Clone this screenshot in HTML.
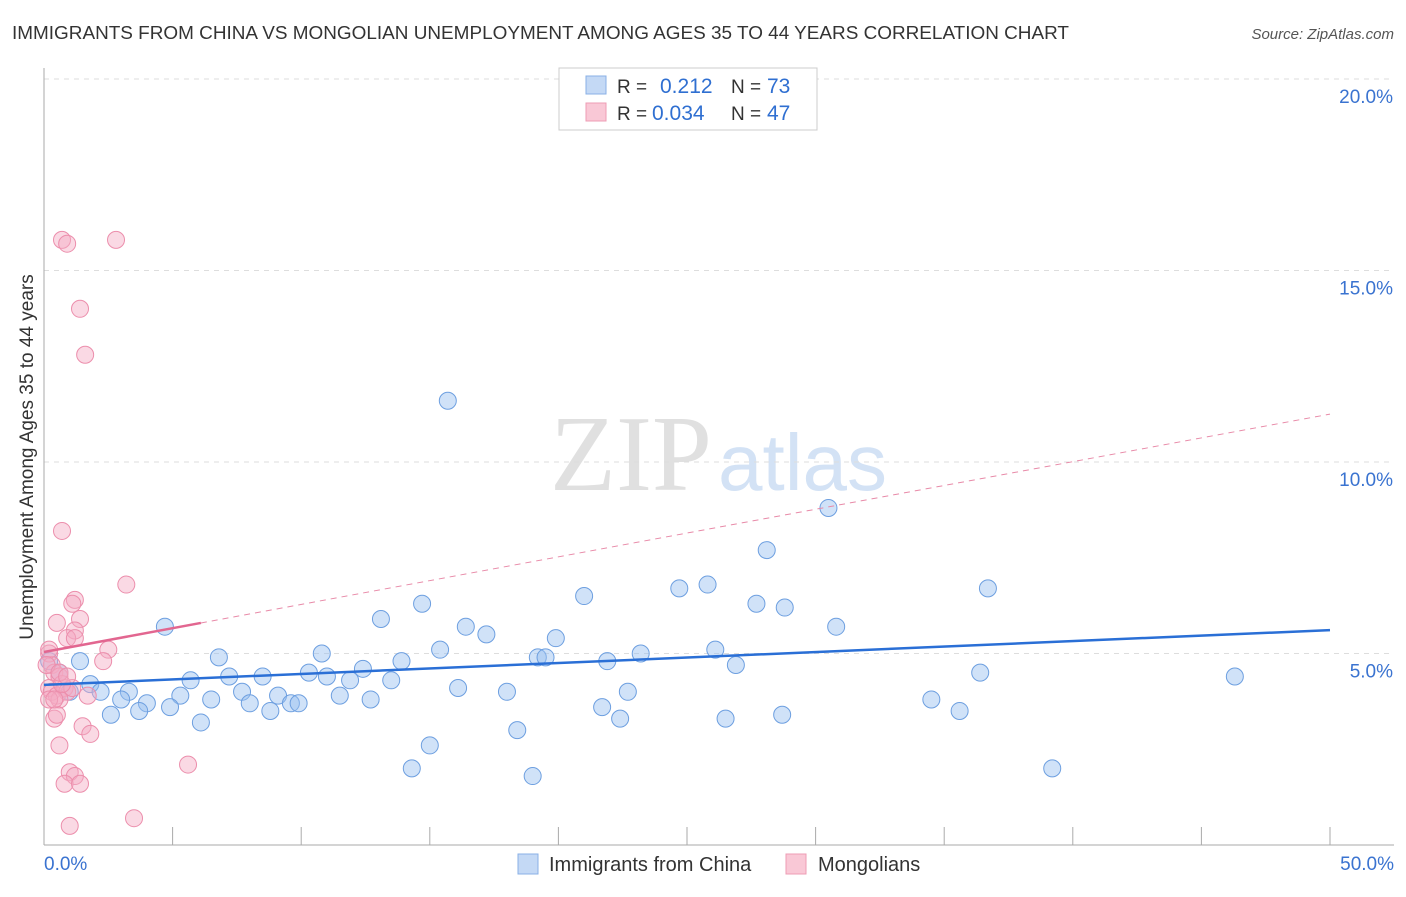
<!DOCTYPE html>
<html><head><meta charset="utf-8"><style>
body{margin:0;background:#fff;font-family:"Liberation Sans",sans-serif}
</style></head><body>
<svg id="c" width="1406" height="892" xmlns="http://www.w3.org/2000/svg">
<text x="12" y="39" font-size="18" fill="#333" textLength="1057" lengthAdjust="spacingAndGlyphs">IMMIGRANTS FROM CHINA VS MONGOLIAN UNEMPLOYMENT AMONG AGES 35 TO 44 YEARS CORRELATION CHART</text>
<text x="1394" y="39" font-size="15" fill="#555" font-style="italic" text-anchor="end">Source: ZipAtlas.com</text>
<text x="712" y="490" font-size="108" fill="#e0e0e0" font-family="Liberation Serif" text-anchor="end">ZIP</text>
<text x="718" y="490" font-size="80" fill="#d3e2f5">atlas</text>
<g id="grid"></g><g id="axes"></g><g id="pts"></g><g id="lines"></g>
<text transform="translate(33,457) rotate(-90)" font-size="19" fill="#333" text-anchor="middle">Unemployment Among Ages 35 to 44 years</text>
<g>
<rect x="559" y="68" width="258" height="62" fill="#fff" stroke="#ccc"/>
<rect x="586" y="76" width="20" height="18" fill="#c4d9f5" stroke="#8ab0e6"/>
<rect x="586" y="103" width="20" height="18" fill="#f9c8d6" stroke="#ee9cb4"/>
<text x="617" y="93" font-size="19" fill="#333">R =</text>
<text x="660" y="93" font-size="21" fill="#2f6fd1">0.212</text>
<text x="731" y="93" font-size="19" fill="#333">N =</text>
<text x="767" y="93" font-size="21" fill="#2f6fd1">73</text>
<text x="617" y="120" font-size="19" fill="#333">R =</text>
<text x="652" y="120" font-size="21" fill="#2f6fd1">0.034</text>
<text x="731" y="120" font-size="19" fill="#333">N =</text>
<text x="767" y="120" font-size="21" fill="#2f6fd1">47</text>
</g>
<g>
<rect x="518" y="854" width="20" height="20" fill="#c4d9f5" stroke="#8ab0e6"/>
<text x="549" y="871" font-size="20" fill="#333">Immigrants from China</text>
<rect x="786" y="854" width="20" height="20" fill="#f9c8d6" stroke="#ee9cb4"/>
<text x="818" y="871" font-size="20" fill="#333">Mongolians</text>
</g>
</svg>
<script>
const blueX=[15.7,30.5,28.1,25.8,24.7,36.7,21.0,14.7,27.7,28.8,13.1,30.8,16.4,4.7,17.2,19.9,10.8,15.4,6.8,23.2,26.1,19.2,19.5,21.9,13.9,1.4,26.9,10.3,12.4,36.4,46.3,5.7,7.2,8.5,11.0,11.9,13.5,16.1,18.0,22.7,1.8,2.2,3.3,1.0,7.7,9.1,5.3,6.5,11.5,4.0,3.0,8.0,9.6,9.9,12.7,34.5,4.9,3.7,2.6,8.8,21.7,35.6,6.1,22.4,26.5,28.7,18.4,15.0,14.3,19.0,39.2,0.6,0.2];
const blueY=[11.6,8.8,7.7,6.8,6.7,6.7,6.5,6.3,6.3,6.2,5.9,5.7,5.7,5.7,5.5,5.4,5.0,5.1,4.9,5.0,5.1,4.9,4.9,4.8,4.8,4.8,4.7,4.5,4.6,4.5,4.4,4.3,4.4,4.4,4.4,4.3,4.3,4.1,4.0,4.0,4.2,4.0,4.0,4.0,4.0,3.9,3.9,3.8,3.9,3.7,3.8,3.7,3.7,3.7,3.8,3.8,3.6,3.5,3.4,3.5,3.6,3.5,3.2,3.3,3.3,3.4,3.0,2.6,2.0,1.8,2.0,4.5,4.8];
const pinkX=[0.7,0.9,2.8,1.4,1.6,0.7,3.2,1.2,1.1,0.5,1.4,1.2,0.9,1.2,2.5,2.3,0.2,0.3,0.4,0.6,0.2,0.3,0.5,0.8,0.9,1.1,0.6,0.2,1.7,0.4,0.5,1.5,1.8,0.6,1.0,1.2,0.8,1.4,5.6,1.0,3.5,0.2,0.1,0.7,0.4,0.6,0.9];
const pinkY=[15.8,15.7,15.8,14.0,12.8,8.2,6.8,6.4,6.3,5.8,5.9,5.6,5.4,5.4,5.1,4.8,5.0,4.7,4.5,4.4,4.1,4.0,3.9,4.1,4.0,4.1,3.8,3.8,3.9,3.3,3.4,3.1,2.9,2.6,1.9,1.8,1.6,1.6,2.1,0.5,0.7,5.1,4.7,4.2,3.8,4.5,4.4];
const xTicks=[0,5,10,15,20,25,30,35,40,45,50];
const yTicks=[5,10,15,20];
const blueLine=[4.18,5.61];
const pinkLine=[5.04,11.25];
const NS="http://www.w3.org/2000/svg";
const X=v=>44+v*25.72, Y=v=>845-v*38.3;
function mk(t,a,p){const e=document.createElementNS(NS,t);for(const k in a)e.setAttribute(k,a[k]);document.getElementById(p).appendChild(e);return e;}
yTicks.forEach(t=>{
 const g=mk('line',{x1:44,x2:1394,y1:Y(t),y2:Y(t),stroke:'#ddd','stroke-dasharray':'5,5'},'grid');
 
 
 const l=mk('text',{x:1393,y:Y(t)+24,'font-size':19,fill:'#3a73d0','text-anchor':'end'},'axes');
 l.textContent=t.toFixed(1)+'%';
 
 
});
const ax=mk('line',{x1:44,x2:44,y1:68,y2:845,stroke:'#aaa'},'axes');


const bx=mk('line',{x1:44,x2:1394,y1:845,y2:845,stroke:'#aaa'},'axes');


xTicks.forEach(t=>{
 const k=mk('line',{x1:X(t),x2:X(t),y1:827,y2:845,stroke:'#aaa'},'axes');
 
 
});
[[0,'0.0%','start',44],[50,'50.0%','end',1394]].forEach(d=>{
 const l=mk('text',{x:d[3],y:870,'font-size':19,fill:'#3a73d0','text-anchor':d[2]},'axes');
 l.textContent=d[1];
 
 
});
blueX.forEach((x,i)=>{
 const c=mk('circle',{cx:X(x),cy:Y(blueY[i]),r:8.5,fill:'rgba(150,190,240,0.45)',stroke:'#6d9fe0','stroke-width':1},'pts');
 
 
});
pinkX.forEach((x,i)=>{
 const c=mk('circle',{cx:X(x),cy:Y(pinkY[i]),r:8.5,fill:'rgba(245,170,195,0.45)',stroke:'#ec8eac','stroke-width':1},'pts');
 
 
});
const bl=mk('line',{x1:X(0),y1:Y(blueLine[0]),x2:X(50),y2:Y(blueLine[1]),stroke:'#2a6fd6','stroke-width':2.5},'lines');


const px=6.1, py=pinkLine[0]+(pinkLine[1]-pinkLine[0])*px/50;
const pl=mk('line',{x1:X(0),y1:Y(pinkLine[0]),x2:X(px),y2:Y(py),stroke:'#e26690','stroke-width':2.5},'lines');


const pd=mk('line',{x1:X(px),y1:Y(py),x2:X(50),y2:Y(pinkLine[1]),stroke:'#e88aa8','stroke-width':1,'stroke-dasharray':'6,5'},'lines');


</script>
</body></html>
